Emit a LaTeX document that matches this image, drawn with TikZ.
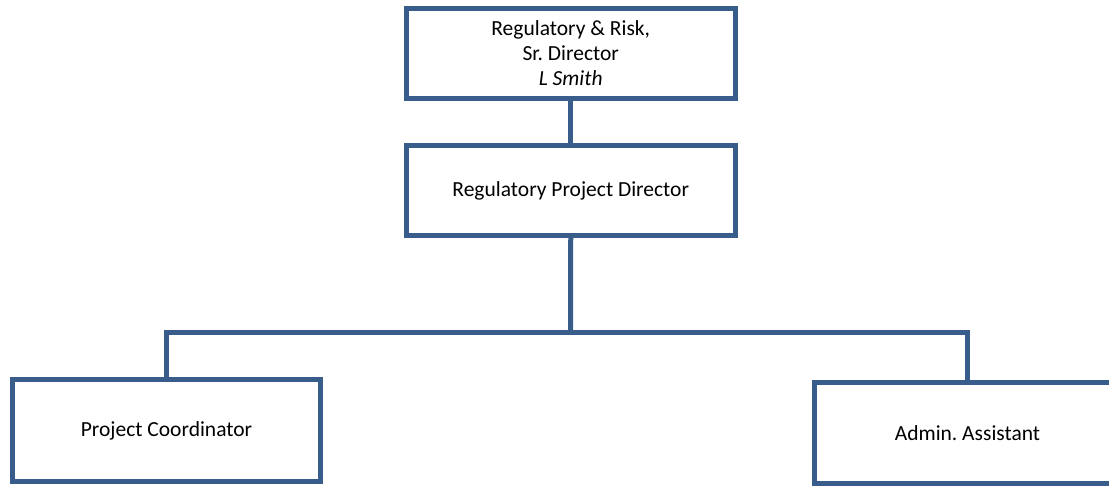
\documentclass[tikz,border=0pt]{standalone}
\usepackage{fontspec}
\setmainfont{Carlito}
\frenchspacing
\definecolor{boxblue}{HTML}{385D8A}
\begin{document}
\begin{tikzpicture}[x=1pt,y=-1pt,
  orgbox/.style={draw=boxblue, line width=5pt, fill=white, rectangle, inner sep=0pt, align=center,
    font=\fontsize{21.5}{25}\selectfont},
  link/.style={draw=boxblue, line width=5pt}]
\useasboundingbox (0,0) rectangle (1109,485);
\clip (0,0) rectangle (1109,485);
\node[orgbox, minimum width=328.5pt, minimum height=90pt] (top) at (570.75,53)
  {Regulatory \& Risk,\\Sr. Director\\\textit{L Smith}};
\node[orgbox, minimum width=328.5pt, minimum height=90pt] (dir) at (570.75,190.5)
  {Regulatory Project Director};
\node[orgbox, minimum width=308pt, minimum height=101.5pt] (pc) at (166.5,430.5)
  {Project Coordinator};
\node[orgbox, minimum width=306pt, minimum height=100.5pt] (aa) at (967.5,433)
  {Admin. Assistant};
\coordinate (bus) at (570.5,332.5);
\draw[link] (top.south) -- (dir.north);
\draw[link] (dir.south) -- (bus);
\draw[link] (bus) -| (pc.north);
\draw[link] (bus) -| (aa.north);
\end{tikzpicture}
\end{document}
